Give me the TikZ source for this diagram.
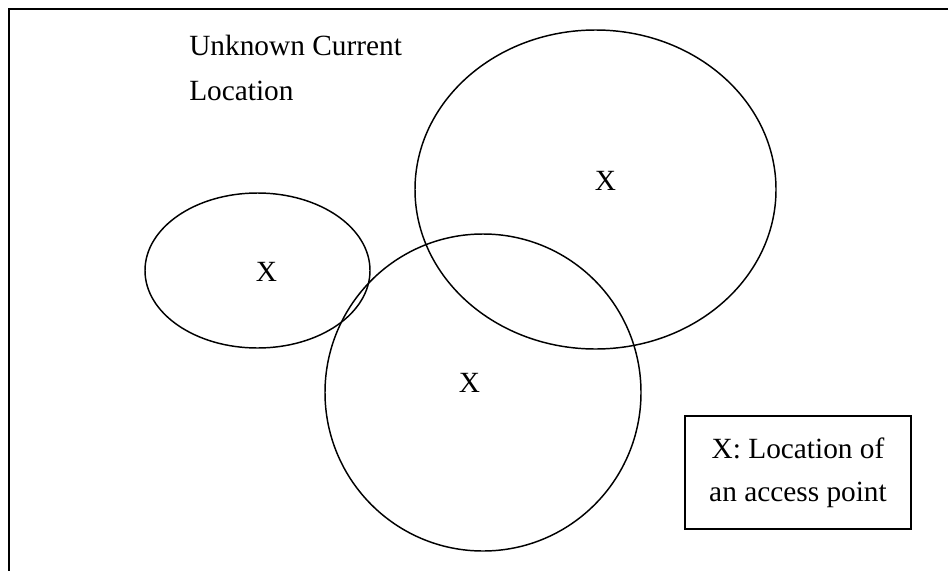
\documentclass[tikz,border=0pt]{standalone}
\usepackage{fontspec}
\setmainfont{Liberation Serif}
\tikzset{
  rangeedge/.style={draw=black,line width=1.1pt},
  apmark/.style={inner sep=0pt,anchor=center},
  legendbox/.style={draw=black,line width=1.5pt,align=center,minimum width=169.5pt,minimum height=84.75pt,inner sep=0pt}
}

\begin{document}
\begin{tikzpicture}[x=0.75pt,y=-0.75pt,line cap=butt,line join=miter,font=\fontsize{22}{32}\selectfont]
\useasboundingbox (0,0) rectangle (948,571);
% area frame, only top and left edge
\draw[black,line width=1.6pt] (948,9) -- (9,9) -- (9,571);
\node[anchor=base west,inner sep=0pt] (loctop) at (189,55) {Unknown Current};
\node[anchor=base west,inner sep=0pt] (locbot) at (189,100) {Location};
% ranges of the access points
\draw[rangeedge] (257.5,270.5) ellipse (112.5 and 77.5);
\draw[rangeedge] (595.5,189.5) ellipse (180.5 and 159.5);
\draw[rangeedge] (483,392.5) ellipse (158 and 158.5);
\node[apmark] (apleft) at (266.5,271.5) {X};
\node[apmark] (apright) at (605.5,180.5) {X};
\node[apmark] (apbottom) at (469.5,383) {X};
% legend
\node[legendbox] (legend) at (798,472.5) {X: Location of\\an access point};
\end{tikzpicture}
\end{document}
